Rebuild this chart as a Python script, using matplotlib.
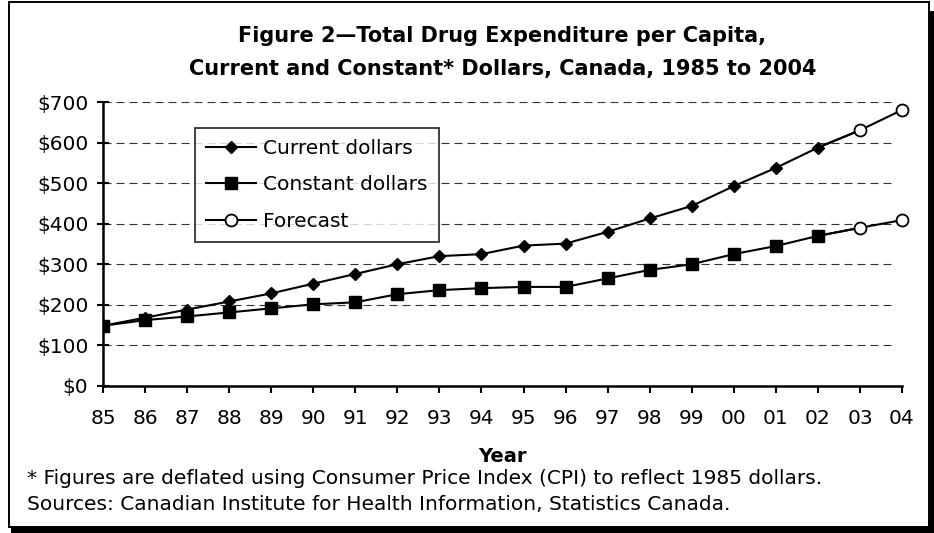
import matplotlib
matplotlib.use("Agg")
import matplotlib.pyplot as plt
from matplotlib.patches import Rectangle
from matplotlib.lines import Line2D

years = list(range(1985, 2005))
year_labels = ["85", "86", "87", "88", "89", "90", "91", "92", "93", "94",
               "95", "96", "97", "98", "99", "00", "01", "02", "03", "04"]
current = [148, 168, 188, 208, 228, 252, 276, 300, 320, 325,
           346, 351, 380, 413, 444, 493, 538, 588, 631, 681]
constant = [148, 162, 171, 181, 191, 201, 206, 226, 236, 241,
            244, 244, 265, 286, 300, 325, 345, 370, 390, 409]
n_forecast = 2
y_ticks = [0, 100, 200, 300, 400, 500, 600, 700]
y_tick_labels = ["$0", "$100", "$200", "$300", "$400", "$500", "$600", "$700"]

plt.rcParams["font.family"] = ["DejaVu Sans"]

W, H = 934, 533
fig = plt.figure(figsize=(W / 100, H / 100), dpi=100)
ax_l, ax_r, ax_t, ax_b = 103, 902, 102.3, 385.7
ax = fig.add_axes([ax_l / W, 1 - ax_b / H, (ax_r - ax_l) / W, (ax_b - ax_t) / H])

def px(x, y):
    return x / W, 1 - y / H

nh = len(years) - n_forecast
lw = 1.5
# historical
ax.plot(years[:nh + 1], current[:nh + 1], color="black", lw=lw, zorder=3)
ax.plot(years[:nh], current[:nh], linestyle="none", marker="D", ms=6.6,
        color="black", zorder=4)
ax.plot(years[:nh + 1], constant[:nh + 1], color="black", lw=lw, zorder=3)
ax.plot(years[:nh], constant[:nh], linestyle="none", marker="s", ms=9,
        color="black", zorder=4)
# forecast
for series in (current, constant):
    ax.plot(years[nh - 1:], series[nh - 1:], color="black", lw=lw, zorder=3)
    ax.plot(years[nh:], series[nh:], linestyle="none", marker="o", ms=8.6,
            mfc="white", mec="black", mew=1.3, zorder=5, clip_on=False)

ax.set_xlim(years[0], years[-1])
ax.set_ylim(0, 700)
ax.set_yticks(y_ticks)
ax.set_yticklabels(y_tick_labels, fontsize=14.5)
ax.set_xticks(years)
ax.set_xticklabels(year_labels, fontsize=14.5)
ax.tick_params(axis="y", direction="inout", length=9, width=1.5, pad=6)
ax.tick_params(axis="x", direction="out", length=5, width=1.5, pad=12)
for s in ("top", "right"):
    ax.spines[s].set_visible(False)
for s in ("left", "bottom"):
    ax.spines[s].set_linewidth(1.8)
for yv in y_ticks[1:]:
    ax.axhline(yv, xmax=0.99, color="#333333", lw=0.8, dashes=(7.2, 4.5), zorder=1)

handles = [
    Line2D([], [], color="black", lw=lw, marker="D", ms=6.6),
    Line2D([], [], color="black", lw=lw, marker="s", ms=9),
    Line2D([], [], color="black", lw=lw, marker="o", ms=8.6, mfc="white", mew=1.3),
]
leg = ax.legend(handles, ["Current dollars", "Constant dollars", "Forecast"],
                loc="upper left",
                bbox_to_anchor=((195 - ax_l) / (ax_r - ax_l), 1 - (127.7 - ax_t) / (ax_b - ax_t)),
                fontsize=14.5, frameon=True, fancybox=False, edgecolor="black",
                handlelength=2.5, handletextpad=0.35, borderpad=0.55, labelspacing=0.88,
                borderaxespad=0)
leg.get_frame().set_linewidth(1.3)
leg.set_zorder(6)

tx = (ax_l + ax_r) / 2
fig.text(*px(tx, 41.7), "Figure 2\u2014Total Drug Expenditure per Capita,",
         ha="center", va="baseline", fontsize=15, fontweight="bold")
fig.text(*px(tx, 75), "Current and Constant* Dollars, Canada, 1985 to 2004",
         ha="center", va="baseline", fontsize=15, fontweight="bold")
fig.text(*px(tx, 461.7), "Year", ha="center", va="baseline", fontsize=14, fontweight="bold")
fig.text(*px(27, 484.3),
         "* Figures are deflated using Consumer Price Index (CPI) to reflect 1985 dollars.",
         ha="left", va="baseline", fontsize=14.5)
fig.text(*px(27, 510),
         "Sources: Canadian Institute for Health Information, Statistics Canada.",
         ha="left", va="baseline", fontsize=14.5)

# outer frame with shadow
fig.patches.append(Rectangle((11 / W, 0), (W - 11) / W, (H - 11) / H, transform=fig.transFigure,
                             facecolor="black", edgecolor="none", zorder=-2))
fig.patches.append(Rectangle((8.5 / W, 6 / H), (W - 14) / W, (H - 7.5) / H, transform=fig.transFigure,
                             facecolor="white", edgecolor="black", lw=1.4, zorder=-1))

fig.savefig("out.png", dpi=100)
